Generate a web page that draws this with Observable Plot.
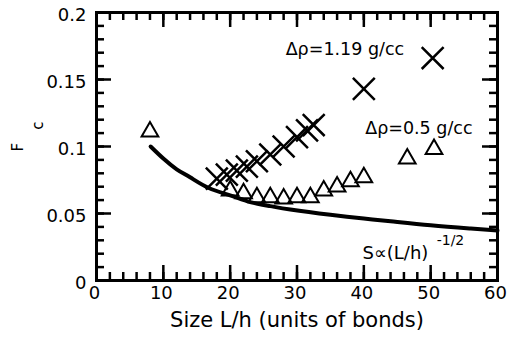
<!DOCTYPE html>
<html><head><meta charset="utf-8">
<script src="https://cdn.jsdelivr.net/npm/d3@7"></script>
<script src="https://cdn.jsdelivr.net/npm/@observablehq/plot@0.6"></script>
<style>body{margin:0;background:#fff} svg{display:block}</style>
</head><body><div id="chart"></div>
<script>
// Δρ = 1.19 g/cc (crosses)
const crossX = [18, 19.5, 21, 22.5, 24, 26, 28, 30, 31.5, 32.5, 40, 50.3];
const crossY = [0.076, 0.079, 0.082, 0.085, 0.089, 0.094, 0.100, 0.107, 0.112, 0.116, 0.143, 0.166];
// Δρ = 0.5 g/cc (triangles)
const triX = [8, 20, 22, 24, 26, 28, 30, 32, 34, 36, 38, 40, 46.5, 50.5];
const triY = [0.111, 0.067, 0.065, 0.062, 0.062, 0.061, 0.062, 0.062, 0.067, 0.070, 0.074, 0.077, 0.091, 0.098];
// S ∝ (L/h)^-1/2 curve
const curveX = [8.1, 10, 12, 14, 16.8, 20, 23, 26, 29, 35, 40, 44, 50, 56, 60];
const curveY = [0.100, 0.091, 0.083, 0.077, 0.069, 0.0635, 0.0585, 0.0555, 0.053, 0.049, 0.0462, 0.0442, 0.0412, 0.0388, 0.0373];
// ticks
const xMajor = [0, 10, 20, 30, 40, 50, 60];
const xTickLabels = ["0", "10", "20", "30", "40", "50", "60"];
const xMinor = d3.range(0, 61, 2);
const yMajor = [0, 0.05, 0.1, 0.15, 0.2];
const yTickLabels = ["0", "0.05", "0.1", "0.15", "0.2"];
const yMinor = d3.range(0, 21, 1).map(d => d / 100);

const crosses = crossX.map((x, i) => ({x, y: crossY[i]}));
const triangles = triX.map((x, i) => ({x, y: triY[i]}));
const curve = curveX.map((x, i) => ({x, y: curveY[i]}));

const W = 507, H = 343, mL = 96, mR = 10, mT = 12, mB = 63;
const innerH = H - mT - mB, innerW = W - mL - mR;
const font = "DejaVu Sans, sans-serif";
const minorLen = 8, majorLen = 15, tw = 2.5;

const chart = Plot.plot({
  width: W, height: H,
  marginLeft: mL, marginRight: mR, marginTop: mT, marginBottom: mB,
  x: {domain: [0, 60], axis: null},
  y: {domain: [0, 0.2], axis: null},
  style: {fontFamily: font, background: "white", color: "black"},
  marks: [
    // bottom / top ticks
    Plot.ruleX(xMinor, {x: d => d, insetTop: innerH - minorLen, strokeWidth: tw}),
    Plot.ruleX(xMinor, {x: d => d, insetBottom: innerH - minorLen, strokeWidth: tw}),
    Plot.ruleX(xMajor, {x: d => d, insetTop: innerH - majorLen, strokeWidth: tw}),
    Plot.ruleX(xMajor, {x: d => d, insetBottom: innerH - majorLen, strokeWidth: tw}),
    // left / right ticks
    Plot.ruleY(yMinor, {y: d => d, insetRight: innerW - minorLen, strokeWidth: tw}),
    Plot.ruleY(yMinor, {y: d => d, insetLeft: innerW - minorLen, strokeWidth: tw}),
    Plot.ruleY(yMajor, {y: d => d, insetRight: innerW - majorLen, strokeWidth: tw}),
    Plot.ruleY(yMajor, {y: d => d, insetLeft: innerW - majorLen, strokeWidth: tw}),
    Plot.frame({strokeWidth: 3, stroke: "black"}),
    // tick labels
    Plot.text(xMajor, {x: d => d, text: (d, i) => xTickLabels[i], frameAnchor: "bottom", dy: 18.5, dx: -2, fontSize: 18, fill: "black"}),
    Plot.text(yMajor, {y: d => d, text: (d, i) => yTickLabels[i], frameAnchor: "left", dx: -10, dy: 3, textAnchor: "end", fontSize: 18, fill: "black"}),
    // axis titles
    Plot.text(["Size L/h (units of bonds)"], {frameAnchor: "bottom", dy: 46, fontSize: 21, fill: "black"}),
    Plot.text(["F"], {frameAnchor: "left", y: 0.0963, dx: -78, rotate: -90, fontSize: 15, fill: "black"}),
    Plot.text(["c"], {frameAnchor: "left", y: 0.1125, dx: -58, rotate: -90, fontSize: 15, fill: "black"}),
    // curve
    Plot.line(curve, {x: "x", y: "y", curve: "natural", strokeWidth: 4, stroke: "black"}),
    // data
    Plot.dot(triangles, {x: "x", y: "y", symbol: "triangle", r: 6.2, stroke: "black", strokeWidth: 2, fill: "none"}),
    Plot.dot(crosses, {x: "x", y: "y", symbol: "times", r: 10, stroke: "black", strokeWidth: 2.5}),
    // annotations
    Plot.text(["Δρ=1.19 g/cc"], {x: 28.3, y: 0.1725, textAnchor: "start", fontSize: 17.5, fill: "black"}),
    Plot.text(["Δρ=0.5 g/cc"], {x: 40.2, y: 0.1138, textAnchor: "start", fontSize: 17.5, fill: "black"}),
    Plot.text(["S∝(L/h)"], {x: 39.8, y: 0.0201, textAnchor: "start", fontSize: 18, fill: "black"}),
    Plot.text(["-1/2"], {x: 50.9, y: 0.0298, textAnchor: "start", fontSize: 14, fill: "black"})
  ]
});
document.getElementById("chart").appendChild(chart);
</script>
</body></html>
